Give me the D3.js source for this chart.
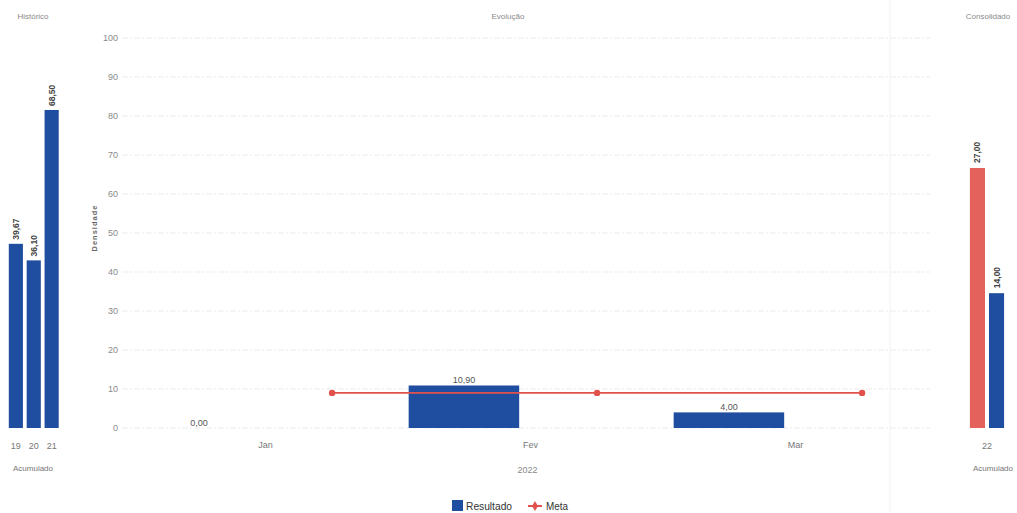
<!DOCTYPE html>
<html><head><meta charset="utf-8">
<script src="https://cdn.jsdelivr.net/npm/d3@7"></script>
<style>
html,body{margin:0;padding:0;background:#fff;}
svg{display:block;font-family:"Liberation Sans",Arial,sans-serif;}
</style></head>
<body><svg id="c" width="1017" height="513"></svg>
<script>
// ---- data ----
const histCategories = ["19","20","21"];
const histValues = [39.67, 36.10, 68.50];
const histLabels = ["39,67","36,10","68,50"];

const months = ["Jan","Fev","Mar"];
const resultado = [0.00, 10.90, 4.00];
const resultadoLabels = ["0,00","10,90","4,00"];
const meta = [9, 9, 9];
const yTicks = [0,10,20,30,40,50,60,70,80,90,100];

const consCategory = ["22"];
const consSeries = ["Meta","Resultado"];
const consValues = [27.00, 14.00];
const consLabels = ["27,00","14,00"];

const BLUE = "#1f4da0", RED = "#e2524d", REDBAR = "#e3625c";
const svg = d3.select("#c");
const plotTop = 38, base = 428;

// titles
const tcol = "#8a8a8a";
svg.append("text").attr("x",33).attr("y",19).attr("text-anchor","middle").attr("font-size",8).attr("fill",tcol).text("Histórico");
svg.append("text").attr("x",508).attr("y",19).attr("text-anchor","middle").attr("font-size",8).attr("fill",tcol).text("Evolução");
svg.append("text").attr("x",988).attr("y",19).attr("text-anchor","middle").attr("font-size",8).attr("fill",tcol).text("Consolidado");

// separator
svg.append("line").attr("x1",890).attr("x2",890).attr("y1",0).attr("y2",513).attr("stroke","#f1f1f1");

// ---- left panel ----
const hx = d3.scaleBand().domain(histCategories).range([7,60.5]).paddingInner(0.21).paddingOuter(0.1);
const hy = d3.scaleLinear().domain([0,84]).range([base,plotTop]);
svg.append("g").selectAll("rect").data(histValues).join("rect")
  .attr("x",(d,i)=>hx(histCategories[i])).attr("width",hx.bandwidth())
  .attr("y",d=>hy(d)).attr("height",d=>base-hy(d)).attr("fill",BLUE);
svg.append("g").selectAll("text").data(histValues).join("text")
  .attr("transform",(d,i)=>`translate(${hx(histCategories[i])+hx.bandwidth()/2+3},${hy(d)-4}) rotate(-90)`)
  .attr("font-size",8.5).attr("font-weight","bold").attr("fill","#444").text((d,i)=>histLabels[i]);
const hAxis = svg.append("g").attr("transform",`translate(0,${base})`).call(d3.axisBottom(hx).tickSize(0).tickPadding(15));
hAxis.select(".domain").remove();
hAxis.selectAll("text").attr("font-size",9).attr("fill","#777");
svg.append("text").attr("x",33).attr("y",471).attr("text-anchor","middle").attr("font-size",8).attr("fill","#777").text("Acumulado");

// ---- main panel ----
const x = d3.scaleBand().domain(months).range([133,928]);
const inner = d3.scaleBand().domain(["Resultado","Meta"]).range([0,x.bandwidth()]).paddingInner(0.17).paddingOuter(0.08);
const y = d3.scaleLinear().domain([0,100]).range([base,plotTop]);

const grid = svg.append("g");
grid.selectAll("line").data(yTicks).join("line")
  .attr("x1",122).attr("x2",930).attr("y1",d=>y(d)).attr("y2",d=>y(d))
  .attr("stroke","#ececec").attr("stroke-width",1).attr("stroke-dasharray","6,2,2,2");
const yAxis = svg.append("g").attr("transform","translate(120,0)").call(d3.axisLeft(y).tickValues(yTicks).tickSize(0).tickPadding(2));
yAxis.select(".domain").remove();
yAxis.selectAll("text").attr("font-size",9).attr("fill","#8a8a8a");
svg.append("text").attr("transform","translate(97,228) rotate(-90)").attr("text-anchor","middle")
  .attr("font-size",7.5).attr("font-weight","bold").attr("letter-spacing",1).attr("fill","#666").text("Densidade");

svg.append("g").selectAll("rect").data(resultado).join("rect")
  .attr("x",(d,i)=>x(months[i])+inner("Resultado")).attr("width",inner.bandwidth())
  .attr("y",d=>y(d)).attr("height",d=>base-y(d)).attr("fill",BLUE);
svg.append("g").selectAll("text").data(resultado).join("text")
  .attr("x",(d,i)=>x(months[i])+inner("Resultado")+inner.bandwidth()/2).attr("y",d=>y(d)-2)
  .attr("text-anchor","middle").attr("font-size",9).attr("fill","#555").text((d,i)=>resultadoLabels[i]);

const mx = (d,i)=>x(months[i])+inner("Meta")+inner.bandwidth()/2;
svg.append("path").datum(meta)
  .attr("d",d3.line().x(mx).y(d=>y(d)))
  .attr("fill","none").attr("stroke",RED).attr("stroke-width",1.8);
svg.append("g").selectAll("circle").data(meta).join("circle")
  .attr("cx",mx).attr("cy",d=>y(d)).attr("r",3.2).attr("fill",RED);

const xAxis = svg.append("g").attr("transform",`translate(0,${base})`).call(d3.axisBottom(x).tickSize(0).tickPadding(14));
xAxis.select(".domain").remove();
xAxis.selectAll("text").attr("font-size",9).attr("fill","#777");
svg.append("text").attr("x",x("Fev")+x.bandwidth()/2-3).attr("y",473).attr("text-anchor","middle").attr("font-size",9).attr("fill","#888").text("2022");

// ---- right panel ----
const cx = d3.scaleBand().domain(consCategory).range([968,1006]);
const cinner = d3.scaleBand().domain(consSeries).range([0,cx.bandwidth()]).paddingInner(0.21).paddingOuter(0.1);
const cy = d3.scaleLinear().domain([0,40.5]).range([base,plotTop]);
const ccol = [REDBAR, BLUE];
svg.append("g").selectAll("rect").data(consValues).join("rect")
  .attr("x",(d,i)=>cx("22")+cinner(consSeries[i])).attr("width",cinner.bandwidth())
  .attr("y",d=>cy(d)).attr("height",d=>base-cy(d)).attr("fill",(d,i)=>ccol[i]);
svg.append("g").selectAll("text").data(consValues).join("text")
  .attr("transform",(d,i)=>`translate(${cx("22")+cinner(consSeries[i])+cinner.bandwidth()/2+3},${cy(d)-5}) rotate(-90)`)
  .attr("font-size",8.5).attr("font-weight","bold").attr("fill","#444").text((d,i)=>consLabels[i]);
const cAxis = svg.append("g").attr("transform",`translate(0,${base})`).call(d3.axisBottom(cx).tickSize(0).tickPadding(15));
cAxis.select(".domain").remove();
cAxis.selectAll("text").attr("font-size",9).attr("fill","#777");
svg.append("text").attr("x",993).attr("y",471).attr("text-anchor","middle").attr("font-size",8).attr("fill","#777").text("Acumulado");

// ---- legend ----
const lg = svg.append("g").attr("font-size",11).attr("fill","#333");
lg.append("rect").attr("x",452).attr("y",500).attr("width",11).attr("height",11).attr("fill",BLUE);
lg.append("text").attr("x",466).attr("y",510).attr("textLength",46).attr("lengthAdjust","spacingAndGlyphs").text("Resultado");
lg.append("line").attr("x1",528).attr("x2",542).attr("y1",506).attr("y2",506).attr("stroke",RED).attr("stroke-width",2);
lg.append("path").attr("d",d3.symbol(d3.symbolDiamond,30)()).attr("transform","translate(535,506)").attr("fill",RED);
lg.append("text").attr("x",546).attr("y",510).attr("textLength",22).attr("lengthAdjust","spacingAndGlyphs").text("Meta");
</script></body></html>
